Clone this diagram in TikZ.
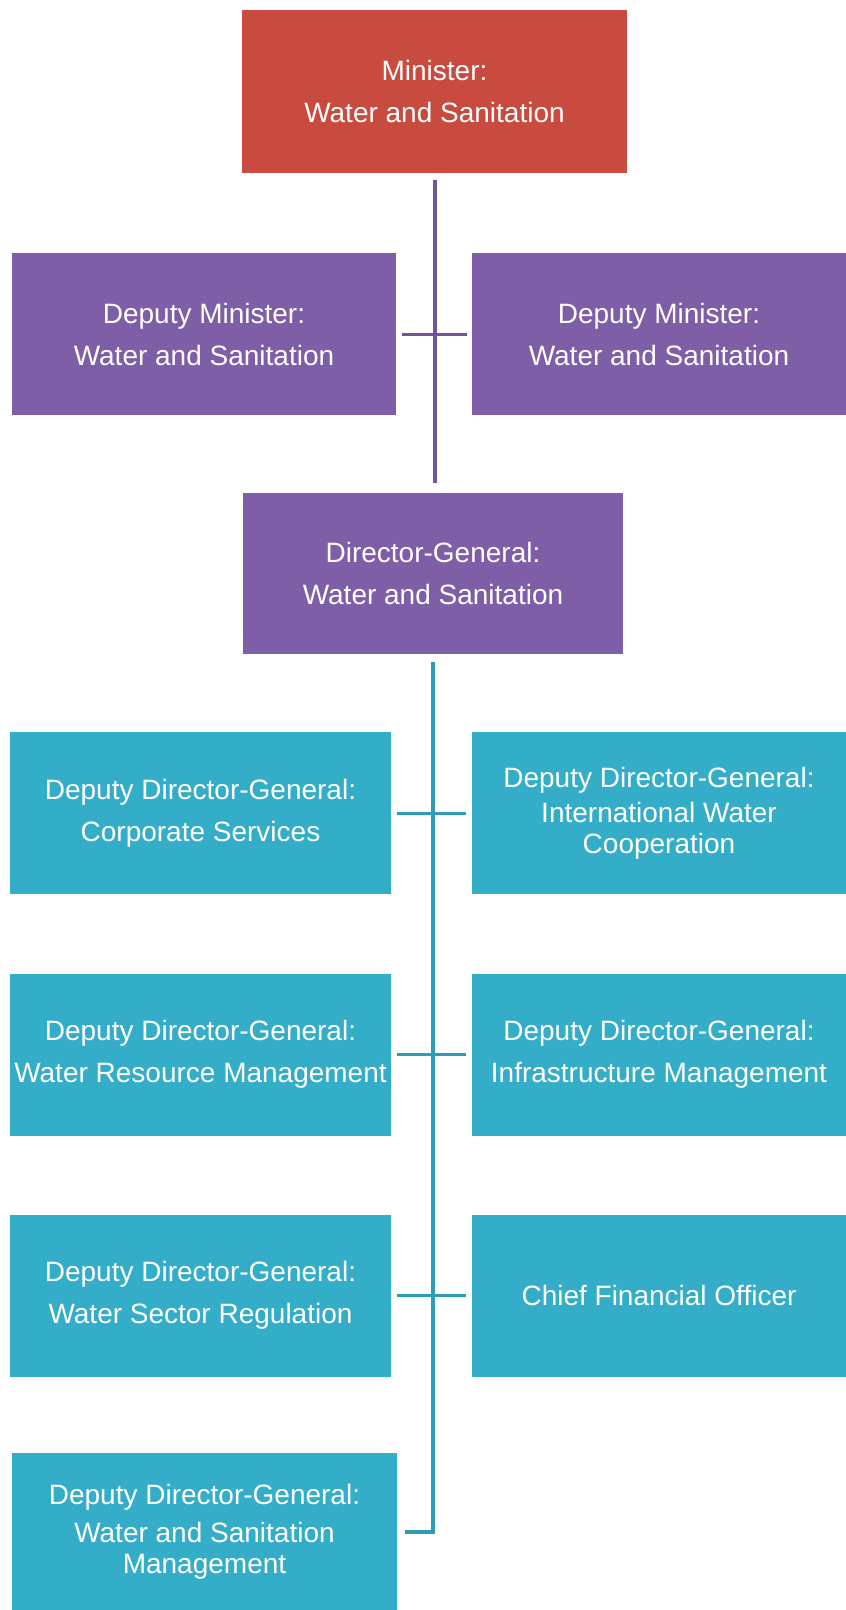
\documentclass[tikz,border=0pt]{standalone}
\usepackage{fontspec}
\setmainfont{Liberation Sans}
\usepackage{tikz}
\definecolor{minred}{HTML}{C94B3F}
\definecolor{deppurple}{HTML}{7E5EA6}
\definecolor{ddgteal}{HTML}{34ADC9}
\begin{document}
\begin{tikzpicture}[x=1pt,y=-1pt,
  box/.style={rectangle,inner sep=0pt,text=white,align=center,
    font=\fontsize{28}{31}\selectfont},
  minbox/.style={box,fill=minred,minimum width=385pt,minimum height=163pt},
  depbox/.style={box,fill=deppurple,minimum height=162pt},
  ddgbox/.style={box,fill=ddgteal,minimum height=162pt},
  purpleline/.style={line width=4pt,draw=deppurple!90!black},
  tealline/.style={line width=4pt,draw=ddgteal!90!black}]
\useasboundingbox (0,0) rectangle (846,1610);
\node[minbox] (minister) at (434.5,91.5) {Minister:\\[11pt]Water and Sanitation};
\node[depbox,minimum width=384pt] (depl) at (204,334) {Deputy Minister:\\[11pt]Water and Sanitation};
\node[depbox,minimum width=374pt] (depr) at (659,334) {Deputy Minister:\\[11pt]Water and Sanitation};
\node[depbox,minimum width=380pt,minimum height=161pt] (dg) at (433,573.5) {Director-General:\\[11pt]Water and Sanitation};
\node[ddgbox,minimum width=381pt] (cs) at (200.5,813) {Deputy Director-General:\\[11pt]Corporate Services};
\node[ddgbox,minimum width=374pt] (iwc) at (659,813) {Deputy Director-General:\\[4pt]International Water\\Cooperation};
\node[ddgbox,minimum width=381pt] (wrm) at (200.5,1054.5) {Deputy Director-General:\\[11pt]Water Resource Management};
\node[ddgbox,minimum width=374pt] (im) at (659,1054.5) {Deputy Director-General:\\[11pt]Infrastructure Management};
\node[ddgbox,minimum width=381pt] (wsr) at (200.5,1295.5) {Deputy Director-General:\\[11pt]Water Sector Regulation};
\node[ddgbox,minimum width=374pt] (cfo) at (659,1295.5) {Chief Financial Officer};
\node[ddgbox,minimum width=385pt,minimum height=157pt] (wsm) at (204.5,1531.5) {Deputy Director-General:\\[7pt]Water and Sanitation\\Management};
\draw[purpleline,shorten <=7pt,shorten >=10pt] (minister.south) -- (minister.south |- dg.north);
\draw[purpleline,line width=3pt,shorten <=6pt,shorten >=5pt] (depl.east) -- (depr.west);
\draw[tealline,shorten <=8pt,shorten >=8pt] (dg.south) |- (wsm.east);
\draw[tealline,line width=3pt,shorten <=6pt,shorten >=6pt] (cs.east) -- (iwc.west);
\draw[tealline,line width=3pt,shorten <=6pt,shorten >=6pt] (wrm.east) -- (im.west);
\draw[tealline,line width=3pt,shorten <=6pt,shorten >=6pt] (wsr.east) -- (cfo.west);
\end{tikzpicture}
\end{document}
